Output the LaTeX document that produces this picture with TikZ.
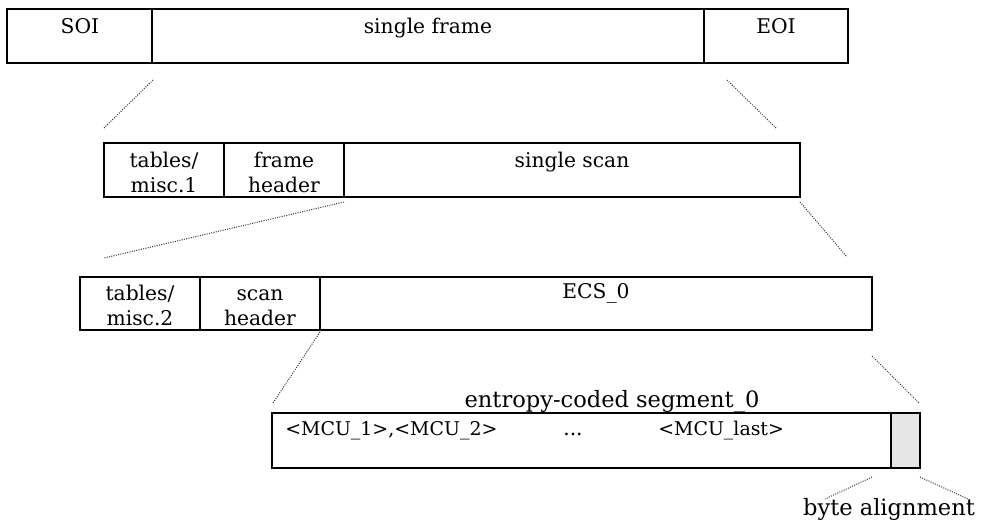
\documentclass[tikz,border=0pt]{standalone}
\usepackage{fontspec}
\setmainfont{DejaVu Serif}
\begin{document}
\begin{tikzpicture}[x=0.75pt,y=-0.75pt,
  boxline/.style={draw=black,line width=1.7pt},
  zoomline/.style={draw=black!80,line width=0.75pt,densely dotted},
  lbl/.style={inner sep=0pt,anchor=base,align=center,font=\fontsize{15.2pt}{18.75pt}\selectfont},
  biglbl/.style={inner sep=0pt,anchor=base,font=\fontsize{16.9pt}{20pt}\selectfont},
  mcu/.style={inner sep=0pt,anchor=base west,font=\fontsize{14.2pt}{18pt}\selectfont}]
\useasboundingbox (0,0) rectangle (981,522);
\definecolor{padgray}{HTML}{E6E6E6}
% row 1
\draw[boxline] (7,9) rectangle (848,63);
\draw[boxline] (152,9) -- (152,63);
\draw[boxline] (704,9) -- (704,63);
\node[lbl] (soi) at (80,33) {SOI};
\node[lbl] (frame) at (428,33) {single frame};
\node[lbl] (eoi) at (776,33) {EOI};
% row 2
\draw[boxline] (104,143) rectangle (800,197);
\draw[boxline] (224,143) -- (224,197);
\draw[boxline] (344,143) -- (344,197);
\node[lbl] (tab1) at (164,192) {tables/\\misc.1};
\node[lbl] (fhdr) at (284,192) {frame\\header};
\node[lbl] (scan) at (572,167) {single scan};
% row 3
\draw[boxline] (80,277) rectangle (872,330);
\draw[boxline] (200,277) -- (200,330);
\draw[boxline] (320,277) -- (320,330);
\node[lbl] (tab2) at (140,325) {tables/\\misc.2};
\node[lbl] (shdr) at (260,325) {scan\\header};
\node[lbl] (ecs) at (596,298) {ECS\_0};
% row 4
\fill[padgray] (891,413) rectangle (920,468);
\draw[boxline] (272,413) rectangle (920,468);
\draw[boxline] (891,413) -- (891,468);
\node[biglbl] (ecslbl) at (612,407) {entropy-coded segment\_0};
\node[mcu] (mcu12) at (285,435) {<MCU\_1>,<MCU\_2>};
\node[lbl] (dots) at (573,435) {...};
\node[mcu] (mculast) at (658,435) {<MCU\_last>};
\node[biglbl] (byte) at (889,515) {byte alignment};
% zoom lines
\coordinate (a1) at (153,80);  \coordinate (b1) at (104,128);
\coordinate (a2) at (727,80);  \coordinate (b2) at (776,128);
\coordinate (a3) at (344,202); \coordinate (b3) at (104,258);
\coordinate (a4) at (800,202); \coordinate (b4) at (847,257);
\coordinate (a5) at (320,332); \coordinate (b5) at (273,403);
\coordinate (a6) at (872,356); \coordinate (b6) at (919,403);
\coordinate (a7) at (872,477); \coordinate (b7) at (825,499);
\coordinate (a8) at (920,477); \coordinate (b8) at (970,500);
\draw[zoomline] (a1) -- (b1);
\draw[zoomline] (a2) -- (b2);
\draw[zoomline] (a3) -- (b3);
\draw[zoomline] (a4) -- (b4);
\draw[zoomline] (a5) -- (b5);
\draw[zoomline] (a6) -- (b6);
\draw[zoomline] (a7) -- (b7);
\draw[zoomline] (a8) -- (b8);
\end{tikzpicture}
\end{document}
